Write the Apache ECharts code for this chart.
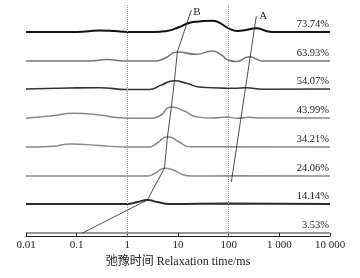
<!DOCTYPE html>
<html>
<head>
<meta charset="utf-8">
<script src="https://cdn.jsdelivr.net/npm/echarts@6/dist/echarts.min.js"></script>
<style>
  html, body { margin: 0; padding: 0; background: #fff; }
  #t2 { width: 360px; height: 278px; }
</style>
</head>
<body>
<div id="t2"></div>
<script>
// relaxation time (ms) ticks
var tickValues = [0.01, 0.1, 1, 10, 100, 1000, 10000];
var tickText = ['0.01', '0.1', '1', '10', '100', '1 000', '10 000'];

// moisture content of each curve, top to bottom
var moisture = ['73.74%', '63.93%', '54.07%', '43.99%', '34.21%', '24.06%', '14.14%', '3.53%'];
var baselines = [204, 175, 147, 118, 89, 60, 32, 3];

// [T2 (ms), amplitude]
var c7374 = [[0.01,0],[0.1,0],[0.28,1.5],[0.55,1],[1,0],[3.4,0],[6,1],[10.6,5],[17,9.3],[26,10.5],[48,11.3],[65,9.3],[100,3.7],[148,1],[220,2],[350,3.7],[550,1],[720,0],[10000,0]];
var c6393 = [[0.01,0],[0.18,0],[0.4,1.5],[0.87,0],[3.4,0],[5.4,2.5],[9.7,9],[23,6.7],[48,10],[72,6],[103,0.5],[142,-0.5],[256,4.3],[368,1.5],[461,0],[10000,0]];
var c5407 = [[0.01,0],[0.072,1],[0.28,1.2],[1,-0.5],[2.7,-0.5],[4.7,4],[8.5,8.3],[15.3,5.5],[26,2],[65,1],[129,0.7],[223,1.3],[461,-0.3],[10000,0]];
var c4399 = [[0.01,-0.3],[0.029,2],[0.09,4.7],[0.28,3],[0.7,0.3],[2.7,-0.3],[4.3,2],[7.4,11],[13.3,7],[23,1.3],[48,0],[94,1],[148,-0.3],[256,0.7],[441,0],[10000,0]];
var c3421 = [[0.01,0],[0.029,0.5],[0.079,3],[0.28,1.5],[1,0],[2.7,0],[3.9,4],[6.2,10.3],[10.6,5],[16.7,0.3],[10000,0]];
var c2406 = [[0.01,0],[2.5,0],[3.6,3],[5.4,7.7],[8.1,6],[12.2,1.5],[18.3,0],[103,0.2],[10000,0]];
var c1414 = [[0.01,0],[1,0],[1.57,2],[2.48,4],[3.9,2],[6.7,0],[100,0.4],[10000,0]];
var c0353 = [[0.01,0],[10000,0]];

// peak trend lines
var lineA = [[351,220],[113,54]];
var lineB = [[18.3,226],[9.7,184],[8.5,155.3],[7.4,129],[6.2,99.3],[5.4,67.7],[2.48,36],[0.13,3]];

var curves = [c7374, c6393, c5407, c4399, c3421, c2406, c1414, c0353];
var colors = ['#111', '#777', '#333', '#888', '#888', '#8a8a8a', '#2a2a2a', '#333'];
var widths = [2, 1.6, 1.6, 1.5, 1.5, 1.5, 2, 1.2];

var serif = 'Liberation Serif, Noto Sans CJK SC, serif';

var series = curves.map(function (c, i) {
  var data = c.map(function (p, j) {
    var pt = { value: [p[0], baselines[i] + p[1]] };
    if (j === c.length - 1) {
      pt.label = {
        show: true, formatter: moisture[i], position: 'top', align: 'right',
        distance: 2, offset: [-1, 0], fontFamily: serif, fontSize: 10.5, color: '#222'
      };
    }
    return pt;
  });
  return {
    type: 'line', data: data, smooth: 0.55,
    symbol: 'circle', symbolSize: 0.01, showSymbol: true,
    lineStyle: { color: colors[i], width: widths[i] },
    itemStyle: { color: colors[i] }, z: 3
  };
});

series.push({
  type: 'line', data: lineA.map(function (p, j) {
    var pt = { value: p };
    if (j === 0) pt.label = { show: true, formatter: 'A', position: 'right', distance: 3, offset: [0, 0], fontFamily: serif, fontSize: 11, color: '#222' };
    return pt;
  }),
  symbol: 'circle', symbolSize: 0.01, lineStyle: { color: '#222', width: 0.8 }, itemStyle: { color: '#222' }, z: 4
});
series.push({
  type: 'line', data: lineB.map(function (p, j) {
    var pt = { value: p };
    if (j === 0) pt.label = { show: true, formatter: 'B', position: 'right', distance: 2, offset: [0, 2], fontFamily: serif, fontSize: 11, color: '#222' };
    return pt;
  }),
  symbol: 'circle', symbolSize: 0.01, lineStyle: { color: '#222', width: 0.8 }, itemStyle: { color: '#222' }, z: 4,
  markLine: {
    silent: true, symbol: 'none', label: { show: false },
    lineStyle: { color: '#999', type: 'dotted', width: 1 },
    data: [{ xAxis: 1 }, { xAxis: 100 }]
  }
});

var myChart = echarts.init(document.getElementById('t2'));
var option = {
  animation: false,
  grid: { left: 26, right: 30, top: 5, bottom: 42 },
  xAxis: {
    type: 'log', logBase: 10, min: 0.01, max: 10000,
    name: '弛豫时间 Relaxation time/ms', nameLocation: 'middle', nameGap: 19,
    nameTextStyle: { fontFamily: serif, fontSize: 12, color: '#222' },
    axisLine: { lineStyle: { color: '#222', width: 1 } },
    axisTick: { inside: true, length: 3, lineStyle: { color: '#222' } },
    axisLabel: {
      margin: 4, fontFamily: serif, fontSize: 11, color: '#222',
      formatter: function (v) {
        for (var i = 0; i < tickValues.length; i++) {
          if (Math.abs(Math.log10(v) - Math.log10(tickValues[i])) < 0.01) return tickText[i];
        }
        return '';
      }
    },
    splitLine: { show: false },
    minorTick: { show: false }
  },
  yAxis: { type: 'value', min: 0, max: 231, show: false },
  series: series
};
myChart.setOption(option);
</script>
</body>
</html>
